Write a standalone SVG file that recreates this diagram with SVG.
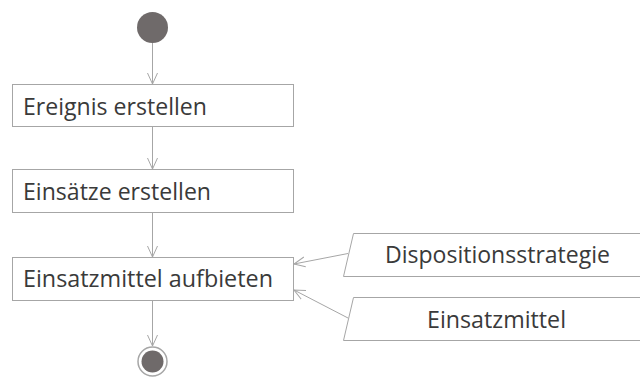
<svg xmlns="http://www.w3.org/2000/svg" width="640" height="377" viewBox="0 0 640 377">
<defs>
<style>
.box{fill:#fff;stroke:#a6a6a6;stroke-width:1}
.lbl{font-family:"Open Sans","Liberation Sans",sans-serif;font-size:24px;fill:#3a3a3a}
.edge{stroke:#a6a6a6;stroke-width:1;fill:none}
.dot{fill:#6f6a6a}
</style>
<marker id="arr" viewBox="0 0 12 12" refX="11" refY="6" markerWidth="12" markerHeight="12" markerUnits="userSpaceOnUse" orient="auto">
<path d="M0,1 L11,6 L0,11" fill="none" stroke="#a6a6a6" stroke-width="1"/>
</marker>
</defs>
<rect width="640" height="377" fill="#fff"/>
<g id="connectors">
<line class="edge" x1="152.5" y1="43" x2="152.5" y2="84" marker-end="url(#arr)"/>
<line class="edge" x1="152.5" y1="127" x2="152.5" y2="169" marker-end="url(#arr)"/>
<line class="edge" x1="152.5" y1="213" x2="152.5" y2="257" marker-end="url(#arr)"/>
<line class="edge" x1="152.5" y1="301" x2="152.5" y2="346" marker-end="url(#arr)"/>
<line class="edge" x1="348" y1="253.5" x2="294" y2="264" marker-end="url(#arr)"/>
<line class="edge" x1="348" y1="318" x2="294" y2="290" marker-end="url(#arr)"/>
</g>
<g id="start"><circle class="dot" cx="152.5" cy="27.5" r="15.5"/></g>
<g id="ereignis"><rect class="box" x="12.5" y="84.5" width="281" height="42"/><text class="lbl" x="23" y="115" textLength="184" lengthAdjust="spacingAndGlyphs">Ereignis erstellen</text></g>
<g id="einsaetze"><rect class="box" x="12.5" y="169.5" width="281" height="43"/><text class="lbl" x="23" y="200" textLength="188" lengthAdjust="spacingAndGlyphs">Einsätze erstellen</text></g>
<g id="aufbieten"><rect class="box" x="12.5" y="257.5" width="281" height="43"/><text class="lbl" x="23" y="287" textLength="250" lengthAdjust="spacingAndGlyphs">Einsatzmittel aufbieten</text></g>
<g id="strategie"><polygon class="box" points="353.5,233.5 660,233.5 650,276.5 343.5,276.5"/><text class="lbl" x="385" y="263" textLength="225" lengthAdjust="spacingAndGlyphs">Dispositionsstrategie</text></g>
<g id="mittel"><polygon class="box" points="353.5,297.5 660,297.5 650,340.5 343.5,340.5"/><text class="lbl" x="427" y="328" textLength="139" lengthAdjust="spacingAndGlyphs">Einsatzmittel</text></g>
<g id="end"><circle cx="152.5" cy="361.5" r="14.5" fill="#fff" stroke="#a6a6a6" stroke-width="1.5"/><circle class="dot" cx="152.5" cy="361.5" r="11"/></g>
</svg>
